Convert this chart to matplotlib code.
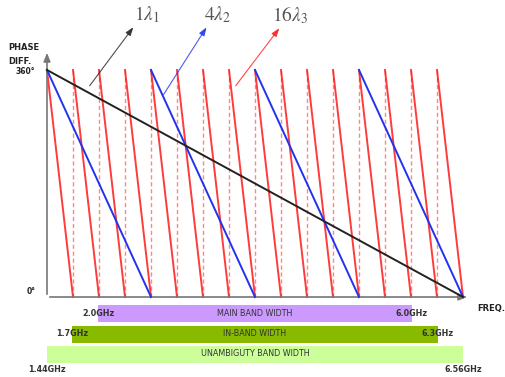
import numpy as np
import matplotlib
matplotlib.use("Agg")
import matplotlib.pyplot as plt

# ─── DATA ──────────────────────────────────────────────
F_MIN, F_MAX = 1.44, 6.56          # GHz, unambiguity band
PHASE_MAX = 360                    # deg
CYCLES = [1, 4, 16]                # wraps of each baseline
CYCLE_LABELS = [r"$1\lambda_1$", r"$4\lambda_2$", r"$16\lambda_3$"]
CYCLE_COLORS = ["#222222", "#2233ee", "#ff1a1a"]

BAND_NAMES = ["MAIN BAND WIDTH", "IN-BAND WIDTH", "UNAMBIGUTY BAND WIDTH"]
BAND_START = [2.07, 1.75, 1.44]    # GHz (as drawn)
BAND_END = [5.93, 6.25, 6.56]
BAND_LO_LABEL = ["2.0GHz", "1.7GHz", "1.44GHz"]
BAND_HI_LABEL = ["6.0GHz", "6.3GHz", "6.56GHz"]
BAND_COLORS = ["#cc99ff", "#88bb00", "#ccff99"]

# ─── LAYOUT (pixel anchors) ────────────────────────────
W, H = 505, 377
X0, X1 = 47, 463      # px of F_MIN, F_MAX
Y0, Y1 = 297, 70      # px of 0 deg, 360 deg
fpp = (F_MAX - F_MIN) / (X1 - X0)
dpp = PHASE_MAX / (Y0 - Y1)


def px(x, y):
    return F_MIN + (x - X0) * fpp, (Y0 - y) * dpp


fig = plt.figure(figsize=(W / 100, H / 100), dpi=100)
ax = fig.add_axes([0, 0, 1, 1])
ax.set_xlim(px(0, 0)[0], px(W, 0)[0])
ax.set_ylim(px(0, H)[1], px(0, 0)[1])
ax.axis("off")

# axes arrows
ax.annotate("", xy=px(X0, 50), xytext=px(X0, Y0),
            arrowprops=dict(arrowstyle="-|>,head_length=0.5,head_width=0.2",
                            color="#777777", lw=1.2))
ax.annotate("", xy=px(470, Y0), xytext=px(X0, Y0),
            arrowprops=dict(arrowstyle="-|>,head_length=0.5,head_width=0.2",
                            color="#777777", lw=1.2))

# sawtooth phase curves
for n, col in zip(CYCLES, CYCLE_COLORS):
    edges = np.linspace(F_MIN, F_MAX, n + 1)
    for a, b in zip(edges[:-1], edges[1:]):
        if n == 16:
            ax.plot([a, b], [PHASE_MAX, 0], color=col, lw=1.4, alpha=0.85, zorder=2)
        else:
            ax.plot([a, b], [PHASE_MAX, 0], color=col, lw=1.4, zorder=3 + (n == 1))
    if n == 16:
        for e in edges[1:-1]:
            ax.plot([e, e], [0, PHASE_MAX], color="#ff5555", lw=1.0, ls=(0, (3, 2)),
                    alpha=0.7, zorder=1)

# labels with arrows
label_pos = [(147, 15), (218, 15), (290, 15)]
arrow_from = [(88, 88), (162, 97), (234, 88)]
arrow_to = [(135, 25), (208, 25), (281, 26)]
for lab, col, lp, a0, a1 in zip(CYCLE_LABELS, CYCLE_COLORS, label_pos, arrow_from, arrow_to):
    ax.annotate("", xy=px(*a1), xytext=px(*a0),
                arrowprops=dict(arrowstyle="-|>,head_length=0.5,head_width=0.18",
                                color=col, lw=0.8, alpha=0.8))
    ax.text(*px(*lp), lab, fontsize=14, color="#555555", ha="center", va="center",
            math_fontfamily="stix")

# axis text
ax.text(*px(8, 47), "PHASE", fontsize=6, fontweight="bold", ha="left", va="center", color="#222222")
ax.text(*px(8, 62), "DIFF.", fontsize=6, fontweight="bold", ha="left", va="center", color="#222222")
ax.text(*px(35, 71), "360°", fontsize=5.5, fontweight="bold", ha="right", va="center", color="#222222")
ax.text(*px(36, 292), "0°", fontsize=5.5, fontweight="bold", ha="right", va="center", color="#222222")
ax.text(*px(477, 308), "FREQ.", fontsize=6, fontweight="bold", ha="left", va="center", color="#222222")

# band bars
bar_y = [313.5, 334, 354]
bar_h = 17
lo_y = [314, 334, 369]
hi_y = [314, 334, 369]
for i, name in enumerate(BAND_NAMES):
    yc = px(0, bar_y[i])[1]
    ax.barh(yc, BAND_END[i] - BAND_START[i], left=BAND_START[i],
            height=bar_h * dpp, color=BAND_COLORS[i], edgecolor="none")
    ax.text((BAND_START[i] + BAND_END[i]) / 2, yc, name, fontsize=5.8,
            ha="center", va="center", color="#333333")
    ax.text(BAND_START[i], px(0, lo_y[i])[1], BAND_LO_LABEL[i], fontsize=5.8,
            fontweight="bold", ha="center", va="center", color="#333333")
    ax.text(BAND_END[i], px(0, hi_y[i])[1], BAND_HI_LABEL[i], fontsize=5.8,
            fontweight="bold", ha="center", va="center", color="#333333")

fig.savefig("out.png", dpi=100)
